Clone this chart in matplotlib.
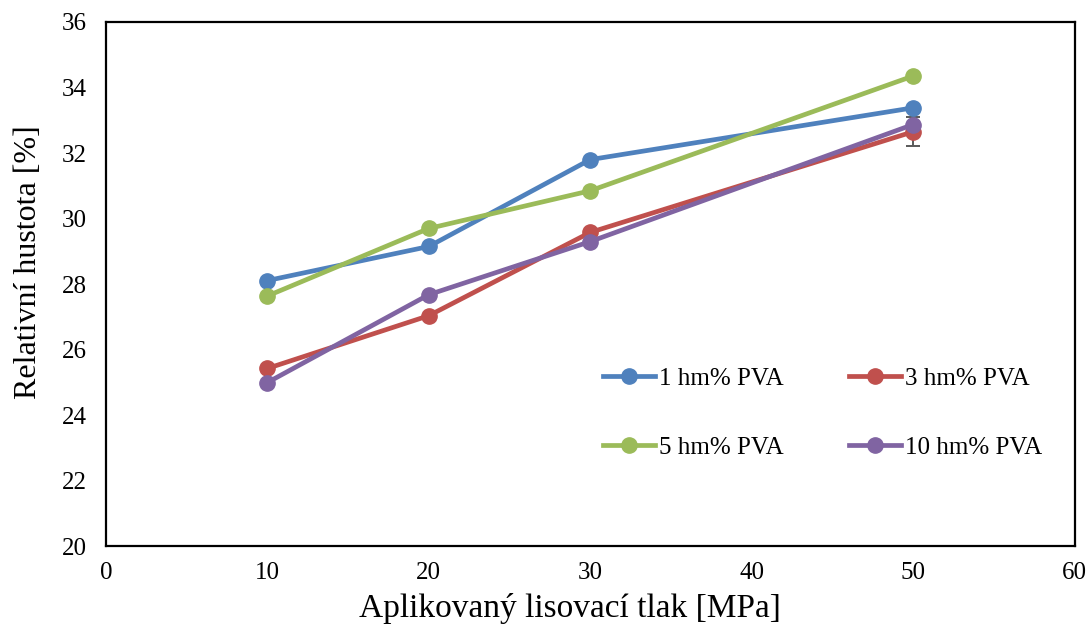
import matplotlib
matplotlib.use("Agg")
import matplotlib.pyplot as plt

plt.rcParams['font.family'] = ['Liberation Serif', 'DejaVu Serif']

pressure = [10, 20, 30, 50]
pva1 = [28.11, 29.15, 31.80, 33.38]
pva3 = [25.43, 27.04, 29.58, 32.65]
pva5 = [27.64, 29.70, 30.85, 34.35]
pva10 = [25.00, 27.68, 29.30, 32.87]
err3 = [0.0, 0.0, 0.0, 0.45]
labels = ["1 hm% PVA", "3 hm% PVA", "5 hm% PVA", "10 hm% PVA"]
colors = ["#4F81BD", "#C0504D", "#9BBB59", "#8064A2"]

fig = plt.figure(figsize=(10.91, 6.26), dpi=100)
ax = fig.add_axes([0.097, 0.127, 0.888, 0.838])

series = [pva1, pva3, pva5, pva10]
handles = []
for i, (s, lab, c) in enumerate(zip(series, labels, colors)):
    if i == 1:
        ax.errorbar(pressure, s, yerr=err3, fmt='none', ecolor='#595959',
                    elinewidth=1.4, capsize=5, capthick=1.4, zorder=1)
    h, = ax.plot(pressure, s, color=c, lw=3.4, marker='o', markersize=11,
                 label=lab, zorder=2 + i)
    handles.append(h)

ax.set_xlim(0, 60)
ax.set_ylim(20, 36)
ax.set_xticks(range(0, 61, 10))
ax.set_yticks(range(20, 37, 2))
ax.tick_params(axis='y', length=0, labelsize=18, pad=14)
ax.tick_params(axis='x', length=0, labelsize=18, pad=11)
for sp in ax.spines.values():
    sp.set_linewidth(1.6)
    sp.set_color('black')

ax.set_xlabel("Aplikovaný lisovací tlak [MPa]", fontsize=24, labelpad=7, x=0.479)
ax.set_ylabel("Relativní hustota [%]", fontsize=23, labelpad=13, y=0.543)

leg = ax.legend(handles=[handles[0], handles[2], handles[1], handles[3]],
                ncol=2, loc='upper left', bbox_to_anchor=(0.513, 0.342),
                frameon=False, fontsize=18, handlelength=2.1,
                handletextpad=0.15, columnspacing=2.6, labelspacing=1.88,
                borderaxespad=0, borderpad=0)

fig.savefig("out.png", dpi=100)
